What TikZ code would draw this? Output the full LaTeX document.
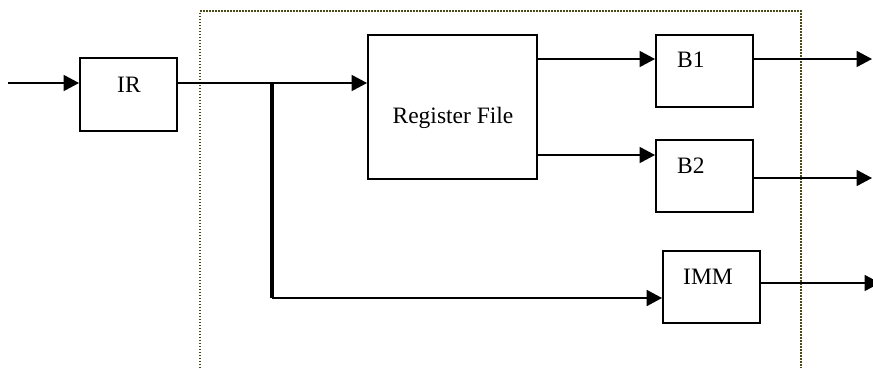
\documentclass[tikz,border=0pt]{standalone}
\usepackage{fontspec}
\setmainfont{Liberation Serif}
\usetikzlibrary{arrows.meta}
\definecolor{frameolive}{HTML}{4A4A14}
\begin{document}
\begin{tikzpicture}[x=1pt,y=-1pt,
  box/.style={draw, line width=1.9pt, inner sep=0pt, minimum width=#1},
  lbl/.style={inner sep=0pt, font=\fontsize{23.5}{28}\selectfont},
  arrow/.style={line width=1.8pt, -{Triangle[length=15.5pt,width=16pt]}},
  bus/.style={line width=3.5pt},
  frame/.style={draw=frameolive, line width=1.8pt, dash pattern=on 1.5pt off 1.5pt}]
\useasboundingbox (0,0) rectangle (873,368);
\begin{scope}
\clip (0,0) rectangle (873,368);

% surrounding dotted frame (open at the bottom)
\draw[frame] (200,368) -- (200,11) -- (801,11) -- (801,368);

% blocks
\node[box=97pt,  minimum height=73pt]  (ir)  at (128.5,94.5) {};
\node[box=169pt, minimum height=144pt] (rf)  at (452.5,107)  {};
\node[box=97pt,  minimum height=72pt]  (b1)  at (704.5,71)   {};
\node[box=97pt,  minimum height=72pt]  (b2)  at (704.5,176)  {};
\node[box=97pt,  minimum height=72pt]  (imm) at (711.5,287)  {};

% block labels
\node[lbl, anchor=base west] (irt)  at (117,92)  {IR};
\node[lbl, anchor=base]      (rft)  at (453,123) {Register File};
\node[lbl, anchor=base west] (b1t)  at (677,67)  {B1};
\node[lbl, anchor=base west] (b2t)  at (677,173) {B2};
\node[lbl, anchor=base west] (immt) at (683,284) {IMM};

% free ends and junctions
\coordinate (src)  at (8,83);
\coordinate (br)   at (272,83);
\coordinate (brlo) at (272,298);
\coordinate (o1)   at (872,59);
\coordinate (o2)   at (872,178);
\coordinate (o3)   at (880,283);

% input into IR
\draw[arrow] (src) -- (ir.west |- src);
% IR to register file
\draw[arrow] (ir.east |- src) -- (rf.west |- src);
% branch down to IMM
\draw[bus] (br) -- (brlo);
\draw[arrow, line width=2.2pt] (brlo) -- (imm.west |- brlo);
% register file to B1 / B2
\draw[arrow] (rf.east |- o1) -- (b1.west |- o1);
\draw[arrow] (rf.east |- 0,155) -- (b2.west |- 0,155);
% outputs
\draw[arrow] (b1.east |- o1) -- (o1);
\draw[arrow] (b2.east |- o2) -- (o2);
\draw[arrow] (imm.east |- o3) -- (o3);
\end{scope}
\end{tikzpicture}
\end{document}
